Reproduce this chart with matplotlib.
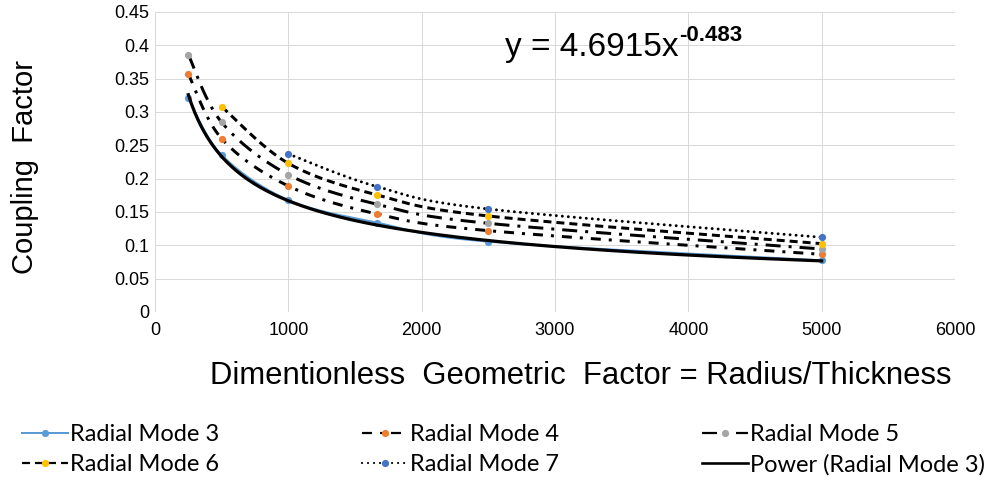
import numpy as np
import matplotlib
matplotlib.use("Agg")
import matplotlib.pyplot as plt
from matplotlib.lines import Line2D

# Coupling factor vs. radius/thickness for several radial modes
ratio = [250, 500, 1000, 1667, 2500, 5000]
mode3 = [0.3205, 0.2355, 0.168, 0.134, 0.1055, 0.0775]
mode4 = [0.357, 0.26, 0.189, 0.147, 0.122, 0.0865]
mode5 = [0.386, 0.2845, 0.206, 0.1615, 0.133, 0.0945]
mode6 = [None, 0.308, 0.223, 0.1755, 0.144, 0.1025]
mode7 = [None, None, 0.237, 0.188, 0.1545, 0.112]

# Power-law trendline fitted to Radial Mode 3
fit_coef = 4.6915
fit_exp = -0.483

labels = ["Radial Mode 3", "Radial Mode 4", "Radial Mode 5",
          "Radial Mode 6", "Radial Mode 7", "Power (Radial Mode 3)"]

plt.rcParams["lines.scale_dashes"] = False
PX = 0.72  # points per pixel at 100 dpi


def smooth(xs, ys, n=40):
    """Bezier smoothing through the points (spreadsheet-style smoothed line)."""
    P = np.array([(x, y) for x, y in zip(xs, ys) if y is not None], float)
    t = np.linspace(0, 1, n)[1:, None]
    out = [P[:1]]
    for i in range(len(P) - 1):
        p0 = P[i - 1] if i > 0 else P[i]
        p1, p2 = P[i], P[i + 1]
        p3 = P[i + 2] if i + 2 < len(P) else P[i + 1]
        c1 = p1 + (p2 - p0) / 6.0
        c2 = p2 - (p3 - p1) / 6.0
        seg = ((1 - t) ** 3) * p1 + 3 * ((1 - t) ** 2) * t * c1 \
            + 3 * (1 - t) * t ** 2 * c2 + t ** 3 * p2
        out.append(seg)
    S = np.vstack(out)
    return S[:, 0], S[:, 1]


fig = plt.figure(figsize=(9.89, 4.88), dpi=100)
ax = fig.add_axes([155 / 989, 1 - 312 / 488, 800 / 989, 300 / 488])

series = [
    (mode3, "#5B9BD5", "#5B9BD5", "-", 2.0 * PX, "butt"),
    (mode4, "black", "#ED7D31", (0, (10 * PX, 8 * PX, 3 * PX, 8 * PX)), 3 * PX, "butt"),
    (mode5, "black", "#A5A5A5", (0, (15 * PX, 8 * PX, 3 * PX, 8 * PX)), 3 * PX, "butt"),
    (mode6, "black", "#FFC000", (0, (8 * PX, 5 * PX)), 3 * PX, "butt"),
    (mode7, "black", "#4472C4", (0, (0.01, 6 * PX)), 3 * PX, "round"),
]

handles = []
for (vals, lc, mc, ls, lw, cap), lab in zip(series, labels):
    sx, sy = smooth(ratio, vals)
    ax.plot(sx, sy, color=lc, linestyle=ls, linewidth=lw,
            dash_capstyle=cap, solid_capstyle="butt", zorder=3)
    px = [x for x, v in zip(ratio, vals) if v is not None]
    py = [v for v in vals if v is not None]
    ax.plot(px, py, linestyle="none", marker="o", markersize=5.2,
            color=mc, markeredgewidth=0, zorder=4)
    handles.append(Line2D([], [], color=lc, linestyle=ls,
                          linewidth=2.2 * PX if lc == "black" else lw,
                          dash_capstyle=cap, marker="o", markersize=5.2,
                          markerfacecolor=mc, markeredgewidth=0))

fx = np.linspace(ratio[0], ratio[-1], 400)
ax.plot(fx, fit_coef * fx ** fit_exp, color="black", linewidth=3.2 * PX,
        zorder=5)
handles.append(Line2D([], [], color="black", linewidth=2.6 * PX))

ax.set_xlim(0, 6000)
ax.set_ylim(0, 0.45)
ax.set_xticks(np.arange(0, 6001, 1000))
ax.set_yticks(np.arange(0, 0.451, 0.05))
ax.set_yticklabels(["0", "0.05", "0.1", "0.15", "0.2", "0.25", "0.3",
                    "0.35", "0.4", "0.45"])
ax.grid(True, color="#D9D9D9", linewidth=1.0 * PX)
ax.set_axisbelow(True)
for s in ax.spines.values():
    s.set_visible(False)
ax.tick_params(length=0, labelsize=13, pad=4)
ax.tick_params(axis="x", pad=7)
for lab in ax.get_xticklabels() + ax.get_yticklabels():
    lab.set_fontfamily("Liberation Sans")

fig.text(25 / 989, 1 - 167 / 488, "Coupling  Factor", rotation=90,
         ha="center", va="center", fontsize=21, family="Liberation Sans")
fig.text(581 / 989, 1 - 376 / 488,
         "Dimentionless  Geometric  Factor = Radius/Thickness",
         ha="center", va="center", fontsize=22.3, family="Liberation Sans")

eq = fig.text(505 / 989, 1 - 56 / 488, "y = 4.6915x", ha="left",
              va="baseline", fontsize=24, family="Liberation Sans")
ax.annotate("%.3f" % fit_exp, xy=(1, 1), xycoords=eq, xytext=(0.5, 5),
            textcoords="offset points", ha="left", va="top",
            fontsize=16, fontweight="bold", family="Liberation Sans")

order = [0, 3, 1, 4, 2, 5]
fs = 17
fs_px = fs / 0.72
fig.legend([handles[i] for i in order], [labels[i] for i in order],
           ncol=3, loc="center left",
           bbox_to_anchor=(22 / 989, 1 - 450 / 488),
           frameon=False, handlelength=46 / fs_px,
           handletextpad=2 / fs_px, labelspacing=0.36, borderpad=0,
           borderaxespad=0, columnspacing=143 / fs_px,
           prop={"family": "Lato", "size": fs})

fig.savefig("out.png", dpi=100)
